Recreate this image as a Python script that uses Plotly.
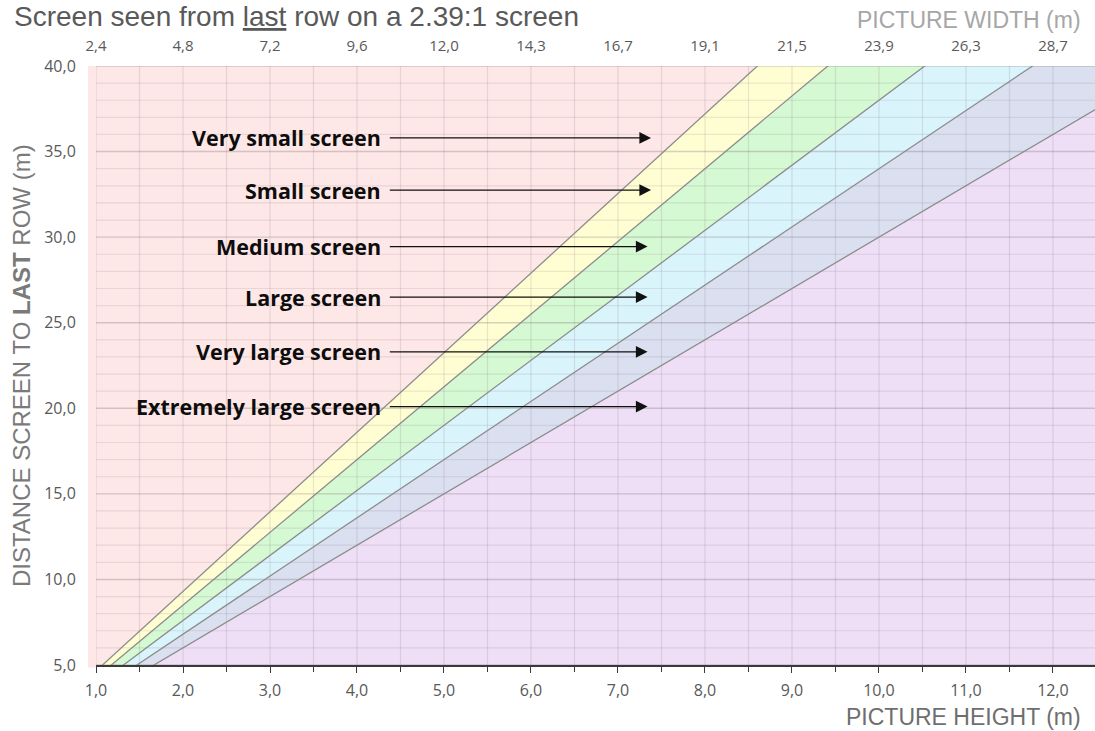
import plotly.graph_objects as go

# ---------------- data ----------------
# Distance / picture-height ratio of each band boundary (steepest first)
BOUNDARY_RATIOS = [4.65, 4.25, 3.8, 3.4, 3.0]
BAND_NAMES = ["Very small screen", "Small screen", "Medium screen",
              "Large screen", "Very large screen", "Extremely large screen"]
BAND_COLORS = ["#FDE8E7", "#FFFED3", "#D5F9D3", "#DAF4FC", "#DBE0F1", "#EEDFF6"]
LABEL_DISTANCES = [35.8, 32.75, 29.45, 26.5, 23.3, 20.1]   # y of each label/arrow
ARROW_START_H = 4.36
ARROW_END_H = [7.38, 7.38, 7.34, 7.34, 7.34, 7.34]
HEIGHT_TICKS = [1, 2, 3, 4, 5, 6, 7, 8, 9, 10, 11, 12]
WIDTH_TICK_LABELS = ["2,4", "4,8", "7,2", "9,6", "12,0", "14,3", "16,7",
                     "19,1", "21,5", "23,9", "26,3", "28,7"]
DIST_TICKS = [5, 10, 15, 20, 25, 30, 35, 40]
X_RANGE = [1.0, 12.483]
Y_RANGE = [5.0, 40.0]
D_SPAN = [0.0, 48.0]      # distance extent used to draw the boundary lines
H_FAR = 30.0              # far-right height used to close the last band

GREY = "#595959"
fig = go.Figure()

# ---------------- bands (pink = plot background) ----------------
for i in range(len(BOUNDARY_RATIOS)):
    r1 = BOUNDARY_RATIOS[i]
    d0, d1 = D_SPAN
    if i + 1 < len(BOUNDARY_RATIOS):
        r2 = BOUNDARY_RATIOS[i + 1]
        xs = [d0 / r1, d1 / r1, d1 / r2, d0 / r2, d0 / r1]
    else:
        xs = [d0 / r1, d1 / r1, H_FAR, H_FAR, d0 / r1]
    ys = [d0, d1, d1, d0, d0]
    fig.add_trace(go.Scatter(x=xs, y=ys, mode="lines", fill="toself",
                             fillcolor=BAND_COLORS[i + 1],
                             line=dict(width=0, color=BAND_COLORS[i + 1]),
                             hoverinfo="skip", showlegend=False))

# ---------------- gridlines drawn over the bands ----------------
def frange(a, b, step):
    out, v = [], a
    while v <= b + 1e-9:
        out.append(round(v, 6))
        v += step
    return out

vx, vy = [], []
for v in frange(1.0, 12.5, 0.5):
    vx += [v, v, None]
    vy += [Y_RANGE[0], Y_RANGE[1], None]
fig.add_trace(go.Scatter(x=vx, y=vy, mode="lines",
                         line=dict(color="rgba(120,95,110,0.16)", width=1.2),
                         hoverinfo="skip", showlegend=False))
hx, hy, mx, my = [], [], [], []
for v in frange(5.0, 40.0, 1.0):
    if int(round(v)) % 5 == 0:
        mx += [X_RANGE[0], 13.0, None]
        my += [v, v, None]
    else:
        hx += [X_RANGE[0], 13.0, None]
        hy += [v, v, None]
fig.add_trace(go.Scatter(x=hx, y=hy, mode="lines",
                         line=dict(color="rgba(120,95,110,0.14)", width=1.2),
                         hoverinfo="skip", showlegend=False))
fig.add_trace(go.Scatter(x=mx, y=my, mode="lines",
                         line=dict(color="rgba(110,95,100,0.28)", width=1.4),
                         hoverinfo="skip", showlegend=False))

# ---------------- boundary lines ----------------
for r in BOUNDARY_RATIOS:
    fig.add_trace(go.Scatter(x=[D_SPAN[0] / r, D_SPAN[1] / r], y=D_SPAN,
                             mode="lines", line=dict(color="#8C8C8C", width=1.3),
                             hoverinfo="skip", showlegend=False))

# dummy trace so the top (width) axis is drawn
fig.add_trace(go.Scatter(x=[X_RANGE[0]], y=[Y_RANGE[0]], xaxis="x2", mode="markers",
                         marker=dict(opacity=0), hoverinfo="skip", showlegend=False))

# ---------------- labels with arrows ----------------
for name, d, xe in zip(BAND_NAMES, LABEL_DISTANCES, ARROW_END_H):
    fig.add_annotation(x=xe, y=d, ax=ARROW_START_H, ay=d, axref="x", ayref="y",
                       xref="x", yref="y", text="", showarrow=True,
                       arrowhead=2, arrowsize=1.8, arrowwidth=1.3, arrowcolor="#111111")
    fig.add_annotation(x=ARROW_START_H, y=d, xref="x", yref="y", text="<b>" + name + "</b>",
                       showarrow=False, xanchor="right", yanchor="middle", xshift=-5,
                       font=dict(family="Open Sans", size=21.5, color="#0d0d0d"))

# ---------------- titles ----------------
fig.add_annotation(xref="paper", yref="paper", x=-0.083, y=1.1102, xanchor="left",
                   yanchor="top", showarrow=False, borderpad=0,
                   text="Screen seen from <u>last</u> row on a 2.39:1 screen",
                   font=dict(family="Liberation Sans", size=28, color=GREY))
fig.add_annotation(xref="paper", yref="paper", x=0.988, y=1.0768, xanchor="right",
                   yanchor="middle", showarrow=False, text="PICTURE WIDTH (m)",
                   font=dict(family="Liberation Sans", size=23, color="#A6A6A6"))
fig.add_annotation(xref="paper", yref="paper", x=0.988, y=-0.086, xanchor="right",
                   yanchor="middle", showarrow=False, text="PICTURE HEIGHT (m)",
                   font=dict(family="Liberation Sans", size=23, color="#6E6E6E"))
fig.add_annotation(xref="paper", yref="paper", x=-0.0745, y=0.5, xanchor="center",
                   yanchor="middle", showarrow=False, textangle=-90,
                   text="DISTANCE SCREEN TO <b>LAST</b> ROW (m)",
                   font=dict(family="Liberation Sans", size=24, color="#7A7A7A"))

# pink strip of the plot-area fill left of the axis
fig.add_shape(type="rect", xref="paper", yref="paper", x0=-0.008, x1=0, y0=-0.004, y1=1,
              fillcolor=BAND_COLORS[0], line=dict(width=0), layer="below")

fig.update_layout(
    width=1095, height=731,
    margin=dict(l=96, r=0, t=66, b=66),
    paper_bgcolor="white", plot_bgcolor=BAND_COLORS[0],
    separators=",.",
    showlegend=False,
    xaxis=dict(range=X_RANGE, tickvals=HEIGHT_TICKS, tickformat=".1f",
               showgrid=False, zeroline=False, showline=True, linecolor="#3a3a3a",
               linewidth=1.6, ticks="outside", ticklen=6, tickwidth=1.4,
               tickcolor="#3a3a3a", ticklabelstandoff=4,
               minor=dict(dtick=0.5, ticks="outside", ticklen=5, tickwidth=1.4,
                          tickcolor="#3a3a3a", showgrid=False),
               tickfont=dict(family="Open Sans", size=16, color=GREY), layer="above traces"),
    xaxis2=dict(range=X_RANGE, overlaying="x", side="top", tickvals=HEIGHT_TICKS,
                ticktext=WIDTH_TICK_LABELS, showgrid=False, zeroline=False,
                showline=False, ticks="outside", ticklen=8, tickcolor="rgba(0,0,0,0)",
                tickfont=dict(family="Open Sans", size=15, color=GREY)),
    yaxis=dict(range=Y_RANGE, tickvals=DIST_TICKS, tickformat=".1f", showgrid=False,
               zeroline=False, showline=False, ticks="outside", ticklen=16,
               tickcolor="rgba(0,0,0,0)",
               tickfont=dict(family="Open Sans", size=16, color=GREY)),
)

fig.write_html("out.html", config={"displayModeBar": False},
               post_script="document.body.style.margin='0px';")
